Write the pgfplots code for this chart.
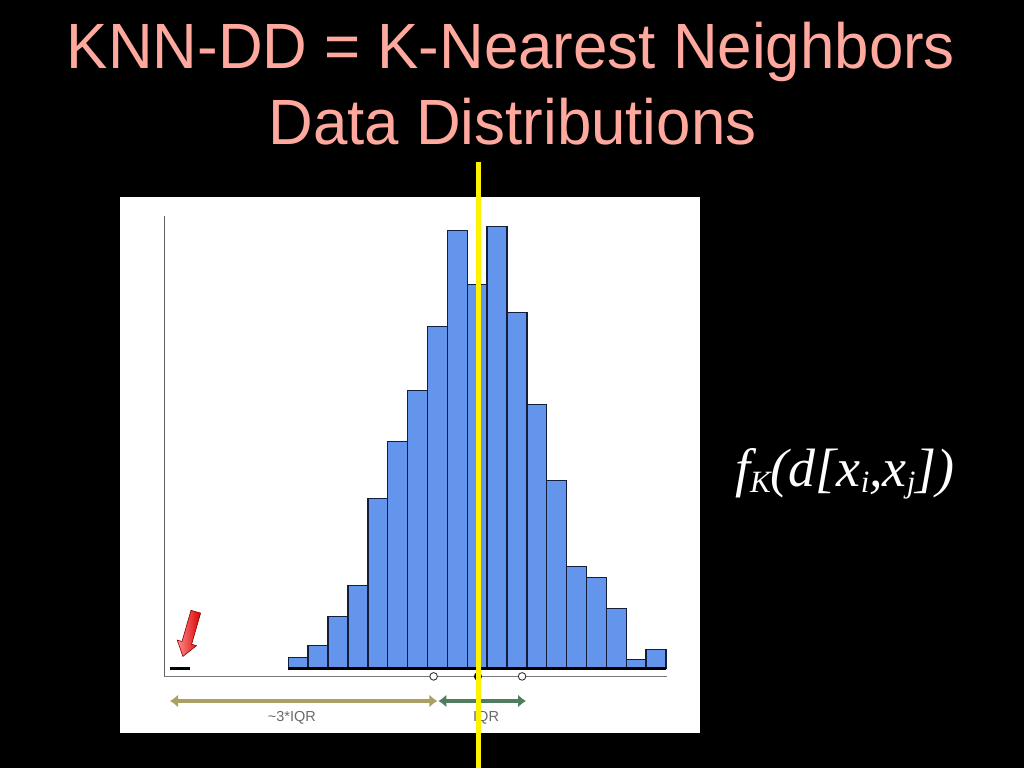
\documentclass[border=0pt]{standalone}
\usepackage{fontspec}
\setmainfont{Liberation Sans}
\newfontfamily\titlefont[FakeStretch=0.966]{Liberation Sans}
\newfontfamily\formfont{Liberation Serif}
\usepackage{pgfplots}
\usepackage{pgfplotstable}
\pgfplotsset{compat=1.18}
\usetikzlibrary{arrows.meta}
\definecolor{titlepink}{RGB}{255,168,158}
\definecolor{barblue}{RGB}{100,149,237}
\definecolor{baredge}{RGB}{20,30,60}
\definecolor{olivearrow}{RGB}{170,160,100}
\definecolor{greenarrow}{RGB}{80,125,95}
\definecolor{axisgray}{RGB}{120,120,120}
\definecolor{labelgray}{RGB}{105,105,105}
\newcommand\sub[1]{\raisebox{-6pt}{\fontsize{31}{33}\selectfont #1}}

\pgfplotstableread{
bin h
1 11
2 23
3 52
4 83
5 170
6 227
7 278
8 342
9 438
10 384
11 442
12 356
13 264
14 188
15 102
16 91
17 60
18 9
19 19
}\histdata

\begin{document}
\begin{tikzpicture}[x=1pt,y=1pt]
\useasboundingbox (0,0) rectangle (1024,768);
\fill[black] (0,0) rectangle (1024,768);
\node[anchor=base, text=titlepink, font=\titlefont\fontsize{64}{70}\selectfont, inner sep=0] at (511,699.5) {KNN-DD = K-Nearest Neighbors};
\node[anchor=base, text=titlepink, font=\titlefont\fontsize{64}{70}\selectfont, inner sep=0] at (512.5,623.5) {Data Distributions};
\fill[white] (120,35) rectangle (700,571);
\begin{axis}[at={(164.4pt,91.6pt)}, anchor=south west, scale only axis,
  width=502.4pt, height=460.7pt,
  xmin=-5.732, xmax=19.54, ymin=-8.1, ymax=452.6,
  axis x line=bottom, axis y line=left,
  x axis line style={-, draw=axisgray, line width=1.3pt},
  y axis line style={-, draw=axisgray!80!black, line width=0.9pt},
  xtick=\empty, ytick=\empty, clip=false]
\addplot[ybar, bar width=1, fill=barblue, draw=baredge, line width=1.4pt] table[x=bin,y=h]{\histdata};
\addplot[black, line width=2.8pt, mark=none] coordinates {(0.5,0) (19.5,0)};
\addplot[black, line width=2.8pt, mark=none] coordinates {(-5.45,0) (-4.44,0)};
\addplot[only marks, mark=*, mark size=3.8pt, mark options={fill=white, draw=black!80, line width=0.9pt}] coordinates {(7.81,-8.1) (12.26,-8.1)};
\addplot[only marks, mark=*, mark size=3.8pt, mark options={fill=black, draw=black}] coordinates {(10.04,-8.1)};
\addplot[olivearrow, line width=4.5pt, {Latex[length=8pt,width=13pt]}-{Latex[length=8pt,width=13pt]}] coordinates {(-5.45,-32.7) (8.0,-32.7)};
\addplot[greenarrow, line width=4.5pt, {Latex[length=8pt,width=13pt]}-{Latex[length=8pt,width=13pt]}] coordinates {(8.05,-32.7) (12.46,-32.7)};
\node[text=labelgray, font=\fontsize{14.5}{16}\selectfont] at (axis cs:0.68,-49.6) {\textasciitilde3*IQR};
\node[text=labelgray, font=\fontsize{14.5}{16}\selectfont] at (axis cs:10.45,-49.6) {IQR};
\end{axis}
\shade[left color=red!45!white, right color=red!85!black, draw=red!55!black, line width=0.6pt]
  (200.6,154.9) -- (191.6,123.7) -- (196.5,122.3) -- (182.9,111.6) -- (177.2,127.9) -- (182.0,126.5) -- (191.0,157.7) -- cycle;
\draw[yellow, line width=5pt] (478,0) -- (478,606);
\node[anchor=base west, inner sep=0, text=white] at (735,281.3) {\formfont\itshape\fontsize{54}{60}\selectfont f\sub{K}(d[x\sub{i},x\sub{j}])};
\end{tikzpicture}
\end{document}
